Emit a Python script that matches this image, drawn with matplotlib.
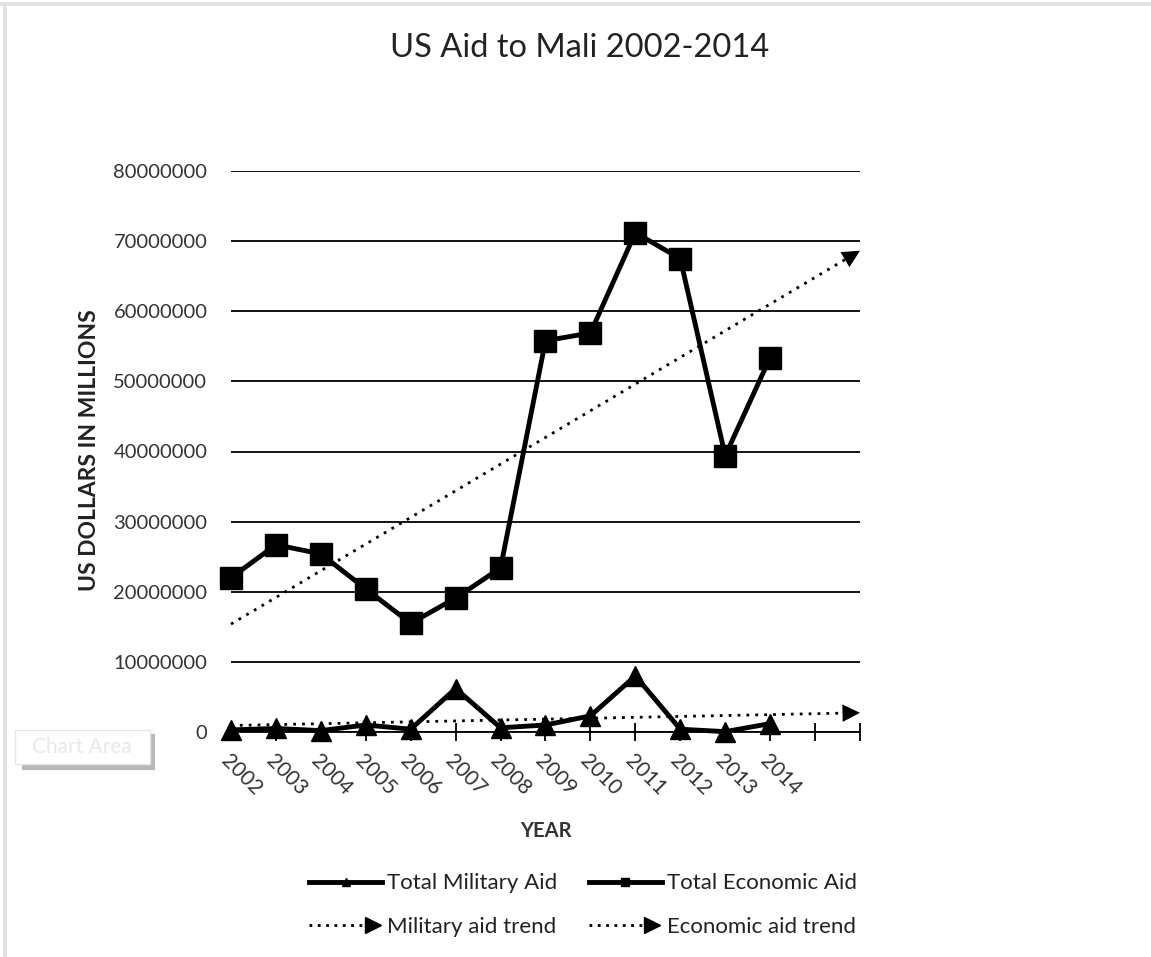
import numpy as np
import matplotlib
matplotlib.use("Agg")
import matplotlib.pyplot as plt
from matplotlib.lines import Line2D
from matplotlib.patches import Rectangle, FancyBboxPatch
from matplotlib.legend_handler import HandlerBase
from matplotlib.ticker import FuncFormatter, FixedLocator

plt.rcParams['font.family'] = ['Lato', 'DejaVu Sans']

# ---- data ----
years = ['2002', '2003', '2004', '2005', '2006', '2007', '2008',
         '2009', '2010', '2011', '2012', '2013', '2014']
economic_aid = [22.0e6, 26.7e6, 25.4e6, 20.4e6, 15.5e6, 19.1e6, 23.4e6,
                55.8e6, 56.9e6, 71.2e6, 67.5e6, 39.4e6, 53.4e6]
military_aid = [0.3e6, 0.5e6, 0.2e6, 1.0e6, 0.4e6, 6.2e6, 0.6e6,
                1.0e6, 2.3e6, 8.0e6, 0.4e6, 0.05e6, 1.2e6]
forecast_periods = 2
y_ticks = [0, 10e6, 20e6, 30e6, 40e6, 50e6, 60e6, 70e6, 80e6]

W, H = 1151, 957
fig = plt.figure(figsize=(W / 100, H / 100), dpi=100)

def fx(x):
    return x / W

def fy(y):
    return 1 - y / H

left, right, top, bottom = 231, 860, 171, 732
ax = fig.add_axes([fx(left), fy(bottom), (right - left) / W, (bottom - top) / H])

x = np.arange(len(years))
n_slots = len(years) - 1 + forecast_periods

ax.set_xlim(0, n_slots)
ax.set_ylim(0, 80e6)

# gridlines
for sp in ['top', 'left', 'right']:
    ax.spines[sp].set_visible(False)
ax.spines['bottom'].set_color('black')
ax.spines['bottom'].set_linewidth(1.3)
ax.set_yticks(y_ticks)
ax.yaxis.set_major_formatter(FuncFormatter(lambda v, p: f'{int(v)}'))
ax.yaxis.grid(True, color='black', linewidth=1.3)
ax.set_axisbelow(True)
ax.tick_params(axis='y', length=0, pad=17, labelsize=14.5, labelcolor='#333333')

ax.xaxis.set_major_locator(FixedLocator(list(range(n_slots + 1))))
labels = years + [''] * (n_slots + 1 - len(years))
ax.set_xticklabels(labels)
ax.tick_params(axis='x', direction='inout', length=13, width=1.3, pad=7,
               labelsize=15, labelcolor='#333333')
for lab in ax.get_xticklabels():
    lab.set_rotation(-45)
    lab.set_ha('left')
    lab.set_va('top')
    lab.set_rotation_mode('anchor')

# trend lines
def trend(vals):
    k, b = np.polyfit(x, np.array(vals), 1)
    xt = np.array([0, n_slots], dtype=float)
    return xt, k * xt + b, k, b

dot = (0, (1, 2.2))
for vals in (military_aid, economic_aid):
    xt, yt, k, b = trend(vals)
    ax.plot([xt[0], xt[1] - 0.25], [yt[0], k * (xt[1] - 0.25) + b], color='black',
            linestyle=dot, linewidth=2.0, clip_on=False, zorder=3)
    ax.annotate('', xy=(xt[1], yt[1]), xytext=(xt[1] - 0.3, k * (xt[1] - 0.3) + b),
                arrowprops=dict(arrowstyle='-|>,head_length=0.9,head_width=0.45',
                                color='black', lw=0, shrinkA=0, shrinkB=0,
                                mutation_scale=14),
                annotation_clip=False, zorder=3)

# data lines
ax.plot(x, economic_aid, color='black', linewidth=3.5, marker='s', markersize=16,
        clip_on=False, zorder=4)
ax.plot(x, military_aid, color='black', linewidth=3.5, marker='^', markersize=15,
        clip_on=False, zorder=4)

# titles
fig.text(fx(580), fy(48), 'US Aid to Mali 2002-2014', ha='center', va='center',
         fontsize=23.5, color='#222222')
fig.text(fx(90), fy(450), 'US DOLLARS IN MILLIONS', ha='center', va='center',
         rotation=90, fontsize=16.5, fontweight='bold', color='#222222')
fig.text(fx(546), fy(831), 'YEAR', ha='center', va='center',
         fontsize=14.5, fontweight='bold', color='#333333')

# legend
class TrendHandler(HandlerBase):
    def create_artists(self, legend, orig_handle, xdescent, ydescent, width,
                       height, fontsize, trans):
        yc = height / 2 - ydescent
        x0 = -xdescent
        x1 = width - xdescent
        ln = Line2D([x0, x1 - 14], [yc, yc], color='black', linestyle=(0, (1, 2)),
                    linewidth=2.0)
        hd = Line2D([x1 - 7], [yc], color='black', marker='>', markersize=11,
                    linestyle='none')
        ln.set_transform(trans)
        hd.set_transform(trans)
        return [ln, hd]

class TrendProxy:
    pass

h_mil = Line2D([], [], color='black', linewidth=3.5, marker='^', markersize=6)
h_eco = Line2D([], [], color='black', linewidth=3.5, marker='s', markersize=6)
t_mil = TrendProxy()
t_eco = TrendProxy()
leg = fig.legend([h_mil, t_mil, h_eco, t_eco],
                 ['Total Military Aid', 'Military aid trend',
                  'Total Economic Aid', 'Economic aid trend'],
                 handler_map={TrendProxy: TrendHandler()},
                 loc='center', bbox_to_anchor=(fx(583), fy(905)), ncol=2,
                 frameon=False, fontsize=16, handlelength=3.3, handletextpad=0.22,
                 columnspacing=1.4, labelspacing=1.05, numpoints=1)
for t in leg.get_texts():
    t.set_color('#222222')

# figure border (light grey)
fig.add_artist(Line2D([fx(0), fx(W)], [fy(4), fy(4)], color='#e3e3e3', linewidth=3))
fig.add_artist(Line2D([fx(5), fx(5)], [fy(4), fy(H)], color='#e3e3e3', linewidth=3))

# "Chart Area" tooltip
fig.add_artist(Rectangle((fx(22), fy(770)), (133) / W, 36 / H, transform=fig.transFigure,
                         facecolor='#8a8a8a', edgecolor='none', alpha=0.6))
fig.add_artist(Rectangle((fx(15), fy(764)), (135) / W, 34 / H, transform=fig.transFigure,
                         facecolor='white', edgecolor='#e6e6e6', linewidth=1))
fig.text(fx(82), fy(747), 'Chart Area', ha='center', va='center', fontsize=15,
         color='#e8e8e8')

fig.savefig('out.png', dpi=100)
